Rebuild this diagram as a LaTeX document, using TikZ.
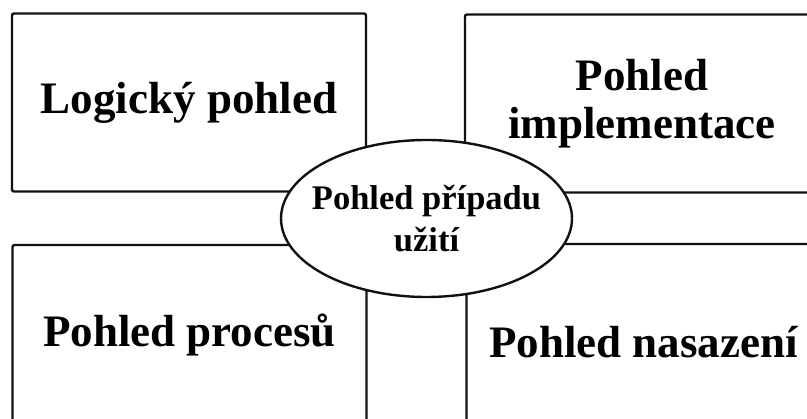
\documentclass[tikz,border=0pt]{standalone}
\usepackage{fontspec}
\setmainfont{Liberation Serif}
\usetikzlibrary{shapes.geometric}
\definecolor{ink}{HTML}{111111}
\tikzset{
  vw/.style={draw=ink, line width=2.4pt, rounded corners=2pt, align=center, inner sep=0pt,
    minimum width=354pt, minimum height=178pt, font=\fontsize{45}{48}\selectfont\bfseries},
  uc/.style={vw, ellipse, sharp corners, fill=white, inner sep=-30pt, minimum width=291pt,
    minimum height=157pt, font=\fontsize{34.5}{42}\selectfont\bfseries},
}
\begin{document}
\begin{tikzpicture}[x=1pt, y=-1pt]
\useasboundingbox (0,0) rectangle (807,419);
\clip (0,0) rectangle (807,419);
% four views round the use-case view
\node[vw] (log) at (189,102.5) {Logický pohled};
\node[vw] (impl) at (642,103.5) {Pohled\\implementace};
\node[vw, minimum height=180pt] (proc) at (189.5,335) {Pohled procesů};
\node[vw, minimum height=196pt] (nas) at (643.5,342) {Pohled nasazení};
\node[uc] (uc) at (426.5,218.5) {Pohled případu\\užití};
\end{tikzpicture}
\end{document}
